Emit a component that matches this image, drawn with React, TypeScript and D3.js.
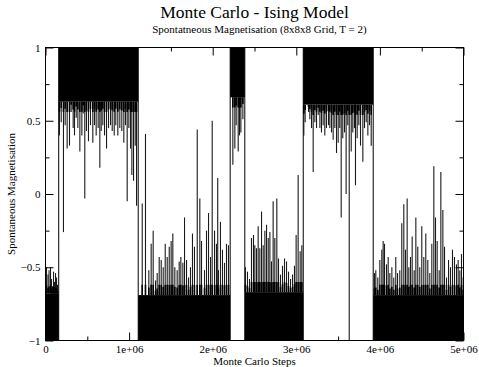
import { useEffect, useRef } from 'react'
import * as d3 from 'd3'

// Monte Carlo steps (millions) where the magnetisation flips sign, and the sign of each stretch
const flipSteps = [0, 0.158, 1.109, 2.209, 2.384, 3.083, 3.92, 5]
const phaseSign = [-1, 1, -1, 1, -1, 1, -1]
// inner edge of the dense fluctuation band for each stretch
const bandEdge = [-0.68, 0.63, -0.69, 0.66, -0.67, 0.61, -0.69]

// larger excursions away from the band: [step (millions), magnetisation]
const spikes: [number, number][] = [
  // -1 stretch
  [0.012, -0.5], [0.03, -0.55], [0.042, -0.52], [0.06, -0.5], [0.072, -0.58], [0.084, -0.63],
  [0.096, -0.53], [0.108, -0.6], [0.12, -0.54], [0.132, -0.57], [0.144, -0.62],
  // +1 stretch
  [0.167, 0.4], [0.188, 0.49], [0.215, -0.26], [0.235, 0.47], [0.259, 0.31], [0.287, 0.33],
  [0.307, 0.56], [0.331, 0.45], [0.347, 0.4], [0.367, 0.52], [0.387, 0.45], [0.411, 0.29],
  [0.435, 0.4], [0.451, 0.55], [0.47, -0.03], [0.49, 0.43], [0.514, 0.36], [0.538, 0.47],
  [0.566, 0.35], [0.586, 0.47], [0.606, 0.4], [0.63, 0.45], [0.65, 0.18], [0.666, 0.43],
  [0.686, 0.47], [0.706, 0.4], [0.73, 0.31], [0.754, 0.45], [0.778, 0.47], [0.798, 0.43],
  [0.822, 0.4], [0.841, 0.47], [0.865, 0.4], [0.889, 0.45], [0.913, 0.43], [0.937, 0.35],
  [0.957, 0.47], [0.977, -0.05], [0.997, 0.45], [1.017, 0.31], [1.033, 0.13], [1.053, 0.09],
  [1.073, 0.33], [1.089, -0.08],
  // -1 stretch
  [1.157, -0.065], [1.196, 0.41], [1.236, -0.52], [1.264, -0.34], [1.288, -0.25], [1.316, -0.59],
  [1.336, -0.54], [1.36, -0.43], [1.384, -0.45], [1.408, -0.5], [1.432, -0.34], [1.456, -0.43],
  [1.48, -0.36], [1.503, -0.32], [1.523, -0.27], [1.547, -0.5], [1.575, -0.52], [1.599, -0.46],
  [1.619, -0.43], [1.643, -0.47], [1.663, -0.16], [1.687, -0.45], [1.711, -0.57], [1.734, -0.5],
  [1.758, -0.27], [1.782, -0.36], [1.815, 0.44], [1.846, -0.03], [1.866, -0.32], [1.994, 0.5],
  [2.06, 0.11], [1.902, -0.52], [1.926, -0.25], [1.95, -0.13], [1.974, -0.43], [2.022, -0.25],
  [2.045, -0.34], [2.069, -0.52], [2.093, -0.19], [2.117, -0.38], [2.141, -0.47], [2.165, -0.34],
  [2.189, -0.35],
  // +1 stretch
  [2.241, 0.2], [2.265, 0.31], [2.281, 0.47], [2.305, 0.29], [2.321, 0.4], [2.337, 0.42],
  [2.361, 0.51],
  // -1 stretch
  [2.392, -0.5], [2.416, -0.53], [2.44, -0.58], [2.464, -0.3], [2.488, -0.28], [2.504, -0.35],
  [2.524, -0.37], [2.544, -0.22], [2.564, -0.37], [2.584, -0.12], [2.604, -0.35], [2.624, -0.25],
  [2.644, -0.21], [2.664, -0.3], [2.684, -0.26], [2.703, -0.46], [2.723, -0.05], [2.743, -0.3],
  [2.767, -0.03], [2.787, -0.44], [2.811, -0.55], [2.835, -0.49], [2.859, -0.44], [2.883, -0.46],
  [2.907, -0.53], [2.931, -0.58], [2.955, -0.55], [2.978, -0.49], [2.998, -0.28], [3.022, 0.13],
  [3.046, -0.39], [3.066, -0.35],
  // +1 stretch
  [3.09, 0.4], [3.106, 0.49], [3.146, 0.56], [3.162, 0.51], [3.182, 0.45], [3.202, 0.15],
  [3.222, 0.49], [3.242, 0.45], [3.262, 0.54], [3.282, 0.45], [3.301, 0.42], [3.321, 0.47],
  [3.341, 0.4], [3.361, 0.45], [3.385, 0.47], [3.401, 0.45], [3.421, 0.42], [3.441, 0.37],
  [3.461, 0.45], [3.481, 0.28], [3.501, 0.35], [3.52, 0.45], [3.537, -0.16], [3.556, 0.38],
  [3.577, 0.42], [3.596, 0.0], [3.616, 0.47], [3.633, -1], [3.657, 0.29], [3.676, 0.42],
  [3.696, 0.45], [3.708, 0.06], [3.728, 0.38], [3.748, 0.47], [3.768, 0.33], [3.796, 0.22],
  [3.816, 0.45], [3.836, 0.49], [3.856, 0.4], [3.876, 0.47], [3.896, 0.33],
  // -1 stretch
  [3.935, -0.54], [3.951, -0.52], [3.975, -0.57], [3.999, -0.45], [4.023, -0.38], [4.039, -0.32],
  [4.055, -0.34], [4.079, -0.48], [4.099, -0.43], [4.119, -0.54], [4.143, -0.5], [4.166, -0.57],
  [4.19, -0.43], [4.211, -0.54], [4.238, -0.52], [4.262, -0.2], [4.286, -0.07], [4.306, -0.38],
  [4.326, -0.03], [4.346, -0.5], [4.366, -0.43], [4.386, -0.29], [4.41, -0.52], [4.43, -0.16],
  [4.453, -0.36], [4.477, -0.5], [4.501, -0.22], [4.525, -0.43], [4.549, -0.27], [4.573, -0.45],
  [4.597, -0.54], [4.621, -0.34], [4.645, 0.19], [4.665, -0.16], [4.685, -0.32], [4.709, -0.52],
  [4.729, 0.15], [4.753, -0.11], [4.773, -0.36], [4.797, -0.57], [4.821, -0.45], [4.844, -0.5],
  [4.868, -0.38], [4.892, -0.43], [4.916, -0.48], [4.936, -0.45], [4.956, -0.52], [4.976, -0.41],
  [4.996, -0.57],
]

const xTicks = [0, 1e6, 2e6, 3e6, 4e6, 5e6]
const xMinorTicks = [0.5e6, 1.5e6, 2.5e6, 3.5e6, 4.5e6]
const yTicks = [-1, -0.5, 0, 0.5, 1]
const yMinorTicks = [-0.75, -0.25, 0.25, 0.75]

const font = '"Liberation Serif", "Times New Roman", serif'

export default function App() {
  const svgRef = useRef<SVGSVGElement>(null)

  useEffect(() => {
    if (!svgRef.current) return
    const svg = d3.select(svgRef.current)
    svg.selectAll('*').remove()

    const x = d3.scaleLinear().domain([0, 5e6]).range([45.5, 463.5])
    const y = d3.scaleLinear().domain([-1, 1]).range([340.5, 47.5])

    const plot = svg.append('g')

    const phaseOf = (s: number) => {
      const i = d3.bisectRight(flipSteps, s) - 1
      return Math.max(0, Math.min(phaseSign.length - 1, i))
    }

    // dense fluctuation band of each stretch
    phaseSign.forEach((s, i) => {
      const x0 = x(flipSteps[i] * 1e6)
      const x1 = x(flipSteps[i + 1] * 1e6)
      const yA = y(s)
      const yB = y(bandEdge[i])
      plot
        .append('rect')
        .attr('x', x0)
        .attr('width', x1 - x0)
        .attr('y', Math.min(yA, yB))
        .attr('height', Math.abs(yB - yA))
        .attr('fill', '#000')
    })

    // sign flips
    flipSteps.slice(1, -1).forEach((f) => {
      plot
        .append('line')
        .attr('x1', x(f * 1e6))
        .attr('x2', x(f * 1e6))
        .attr('y1', y(-1))
        .attr('y2', y(1))
        .attr('stroke', '#000')
        .attr('stroke-width', 1)
    })

    // excursions, drawn from the band edge
    plot
      .selectAll('line.spike')
      .data(spikes)
      .join('line')
      .attr('class', 'spike')
      .attr('x1', (d) => x(d[0] * 1e6))
      .attr('x2', (d) => x(d[0] * 1e6))
      .attr('y1', (d) => y(bandEdge[phaseOf(d[0])]))
      .attr('y2', (d) => y(d[1]))
      .attr('stroke', '#1a1a1a')
      .attr('stroke-width', 1.1)

    // ragged dark fringe where the excursions leave the band
    plot
      .selectAll('line.fringe')
      .data(spikes)
      .join('line')
      .attr('class', 'fringe')
      .attr('x1', (d) => x(d[0] * 1e6))
      .attr('x2', (d) => x(d[0] * 1e6))
      .attr('y1', (d) => y(bandEdge[phaseOf(d[0])]))
      .attr('y2', (d) => {
        const e = bandEdge[phaseOf(d[0])]
        const len = Math.min(Math.abs(d[1] - e) * 0.3, 0.07)
        return y(e + Math.sign(d[1] - e) * len)
      })
      .attr('stroke', '#000')
      .attr('stroke-width', 1.6)

    // axes: ticks inward on all four sides
    const xFmt = (d: d3.NumberValue) => (+d === 0 ? '0' : `${+d / 1e6}e+06`)
    const styleAxis = (g: d3.Selection<SVGGElement, unknown, null, undefined>) => {
      g.select('.domain').remove()
      g.selectAll('line').attr('stroke', '#000')
      g.selectAll('text').attr('fill', '#000').attr('font-family', font).attr('font-size', 11)
    }

    svg
      .append('g')
      .attr('transform', `translate(0,${y(-1)})`)
      .call(d3.axisBottom(x).tickValues(xTicks).tickSize(-8).tickSizeOuter(0).tickPadding(5).tickFormat(xFmt))
      .call(styleAxis)
    svg
      .append('g')
      .attr('transform', `translate(0,${y(-1)})`)
      .call(d3.axisBottom(x).tickValues(xMinorTicks).tickSize(-4).tickSizeOuter(0).tickFormat(() => ''))
      .call(styleAxis)
    svg
      .append('g')
      .attr('transform', `translate(0,${y(1)})`)
      .call(d3.axisTop(x).tickValues(xTicks).tickSize(-8).tickSizeOuter(0).tickFormat(() => ''))
      .call(styleAxis)
    svg
      .append('g')
      .attr('transform', `translate(0,${y(1)})`)
      .call(d3.axisTop(x).tickValues(xMinorTicks).tickSize(-4).tickSizeOuter(0).tickFormat(() => ''))
      .call(styleAxis)

    svg
      .append('g')
      .attr('transform', `translate(${x(0)},0)`)
      .call(d3.axisLeft(y).tickValues(yTicks).tickSize(-8).tickSizeOuter(0).tickPadding(5).tickFormat(d3.format('')))
      .call(styleAxis)
    svg
      .append('g')
      .attr('transform', `translate(${x(0)},0)`)
      .call(d3.axisLeft(y).tickValues(yMinorTicks).tickSize(-4).tickSizeOuter(0).tickFormat(() => ''))
      .call(styleAxis)
    svg
      .append('g')
      .attr('transform', `translate(${x(5e6)},0)`)
      .call(d3.axisRight(y).tickValues(yTicks).tickSize(-8).tickSizeOuter(0).tickFormat(() => ''))
      .call(styleAxis)
    svg
      .append('g')
      .attr('transform', `translate(${x(5e6)},0)`)
      .call(d3.axisRight(y).tickValues(yMinorTicks).tickSize(-4).tickSizeOuter(0).tickFormat(() => ''))
      .call(styleAxis)

    // frame
    svg
      .append('rect')
      .attr('x', x(0))
      .attr('y', y(1))
      .attr('width', x(5e6) - x(0))
      .attr('height', y(-1) - y(1))
      .attr('fill', 'none')
      .attr('stroke', '#000')
      .attr('stroke-width', 1)

    // titles
    const cx = (x(0) + x(5e6)) / 2
    svg
      .append('text')
      .attr('x', cx)
      .attr('y', 18)
      .attr('text-anchor', 'middle')
      .attr('font-family', font)
      .attr('font-size', 17.5)
      .text('Monte Carlo - Ising Model')
    svg
      .append('text')
      .attr('x', cx + 5)
      .attr('y', 33)
      .attr('text-anchor', 'middle')
      .attr('font-family', font)
      .attr('font-size', 11)
      .text('Spontatneous Magnetisation (8x8x8 Grid, T = 2)')
    svg
      .append('text')
      .attr('x', cx)
      .attr('y', 364.5)
      .attr('text-anchor', 'middle')
      .attr('font-family', font)
      .attr('font-size', 11)
      .text('Monte Carlo Steps')
    svg
      .append('text')
      .attr('transform', `translate(15,${(y(1) + y(-1)) / 2}) rotate(-90)`)
      .attr('text-anchor', 'middle')
      .attr('font-family', font)
      .attr('font-size', 11)
      .text('Spontaneous Magnetisation')
  }, [])

  return (
    <svg
      ref={svgRef}
      width={479}
      height={367}
      style={{ position: 'absolute', left: 0, top: 0, background: '#fff' }}
    ></svg>
  )
}
